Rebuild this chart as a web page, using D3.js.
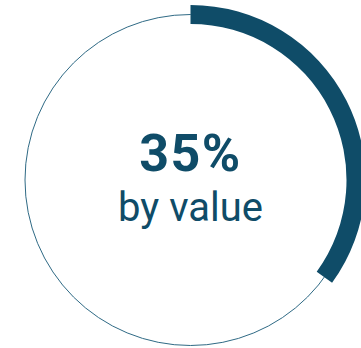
<!DOCTYPE html>
<html>
<head>
<meta charset="utf-8">
<script src="https://cdn.jsdelivr.net/npm/d3@7"></script>
<style>
  html, body { margin: 0; padding: 0; background: #ffffff; }
  svg { display: block; }
</style>
</head>
<body>
<script>
// Share shown as a ring progress gauge
const shareValue = [35];          // percent
const shareTotal = [100];
const labelLines = ["35%", "by value"];

const width = 361, height = 348;
const cx = 190.5, cy = 180;
const ringR = 165.5;
const arcInner = 156, arcOuter = 175;
const color = "#0f4c68";

const svg = d3.select("body").append("svg")
  .attr("width", width).attr("height", height);

const g = svg.append("g").attr("transform", `translate(${cx},${cy})`);

// full thin track
g.append("circle")
  .attr("r", ringR)
  .attr("fill", "none")
  .attr("stroke", "#2f6a85")
  .attr("stroke-width", 1);

// value arc
const angle = d3.scaleLinear().domain([0, shareTotal[0]]).range([0, 2 * Math.PI]);
const arc = d3.arc().innerRadius(arcInner).outerRadius(arcOuter);
g.append("path")
  .attr("d", arc({ startAngle: angle(0), endAngle: angle(shareValue[0]) }))
  .attr("fill", color);

// center labels
g.append("text")
  .attr("x", 0).attr("y", -9)
  .attr("text-anchor", "middle")
  .attr("font-family", "Roboto, sans-serif")
  .attr("font-weight", 700)
  .attr("font-size", 52)
  .attr("letter-spacing", 1.5)
  .attr("fill", color)
  .text(labelLines[0]);

g.append("text")
  .attr("x", 0).attr("y", 41)
  .attr("text-anchor", "middle")
  .attr("font-family", "Roboto, sans-serif")
  .attr("font-weight", 400)
  .attr("font-size", 40)
  .attr("fill", color)
  .text(labelLines[1]);
</script>
</body>
</html>
